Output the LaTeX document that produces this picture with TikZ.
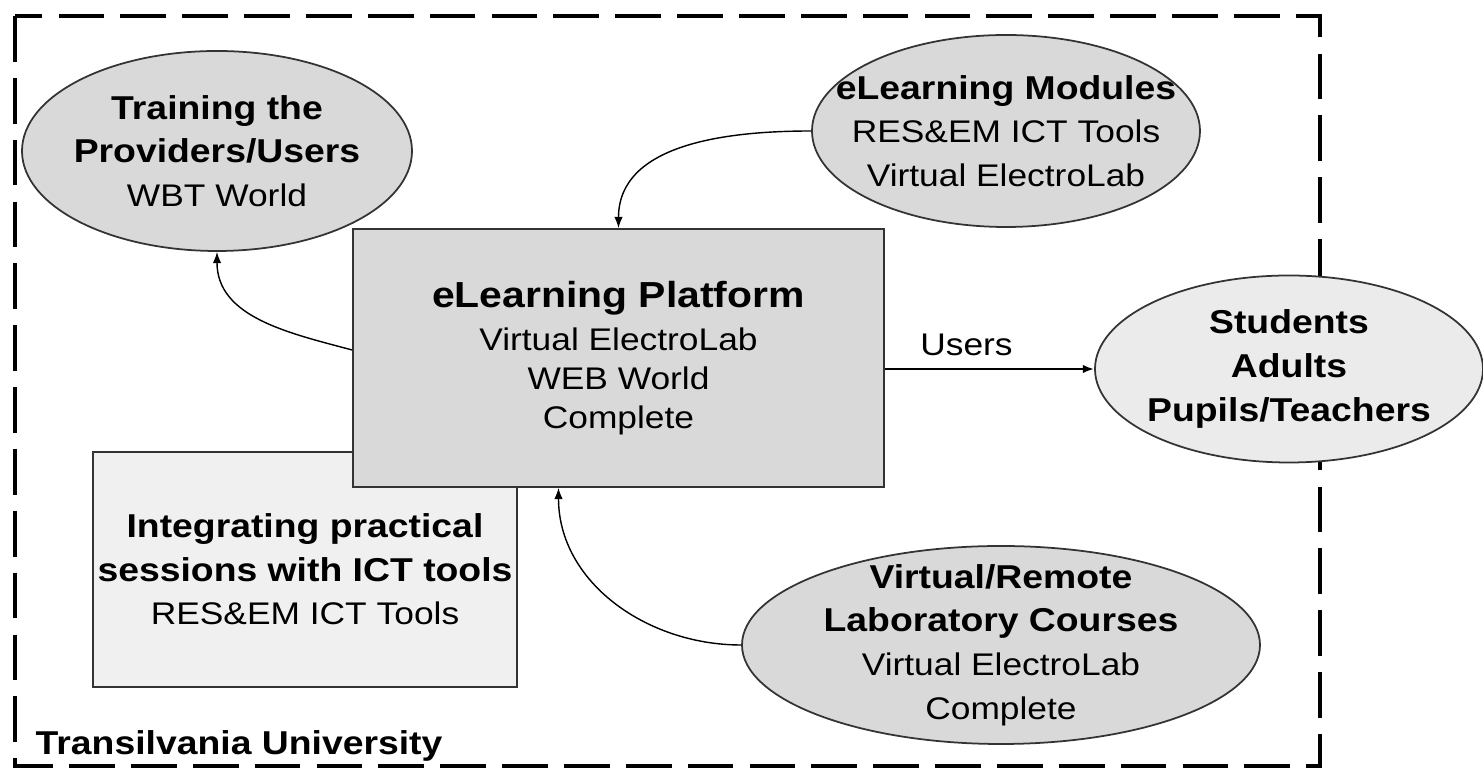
\documentclass[tikz,border=0pt]{standalone}
\usepackage{fontspec}
\setmainfont{Liberation Sans}[FakeStretch=1.13]
\usetikzlibrary{shapes.geometric,arrows.meta}
\newcommand{\bftxt}[1]{{\fontsize{9.4}{12.2}\selectfont\bfseries #1}}
\begin{document}
\begin{tikzpicture}[every node/.style={align=center,font=\fontsize{8.9}{12.4}\selectfont,inner sep=0pt},
  oval/.style={draw=black!80,line width=0.5pt,ellipse,fill=black!15},
  box/.style={draw=black!80,line width=0.5pt,rectangle},
  link/.style={-{Latex[length=3.2pt,width=2.4pt]},line width=0.4pt},
  dashframe/.style={line width=1.4pt,dash pattern=on 13pt off 4.6pt}]
\useasboundingbox (0,0) rectangle (14.83,7.68);
\draw[dashframe] (0.15,7.52) rectangle (13.20,0.02);
\node[box,fill=black!6,minimum width=4.24cm,minimum height=2.35cm] (integ) at (3.05,1.985) {\bftxt{Integrating practical}\\\bftxt{sessions with ICT tools}\\RES\&EM ICT Tools};
\node[box,fill=black!15,minimum width=5.31cm,minimum height=2.58cm,text depth=0.06cm,font=\fontsize{8.9}{11.2}\selectfont] (plat) at (6.185,4.10) {{\fontsize{10.3}{12.2}\selectfont\bfseries eLearning Platform}\\[1pt]Virtual ElectroLab\\WEB World\\Complete};
\node[oval,minimum width=3.9cm,minimum height=2.0cm,label=center:{\bftxt{Training the}\\\bftxt{Providers/Users}\\WBT World}] (train) at (2.17,6.17) {};
\node[oval,minimum width=3.88cm,minimum height=1.92cm,label=center:{\bftxt{eLearning Modules}\\RES\&EM ICT Tools\\Virtual ElectroLab}] (modul) at (10.06,6.37) {};
\node[oval,fill=black!8,minimum width=3.88cm,minimum height=1.87cm,label=center:{\bftxt{Students}\\\bftxt{Adults}\\\bftxt{Pupils/Teachers}}] (stud) at (12.89,3.99) {};
\node[oval,minimum width=5.18cm,minimum height=1.98cm,label=center:{\bftxt{Virtual/Remote}\\\bftxt{Laboratory Courses}\\Virtual ElectroLab\\Complete}] (lab) at (10.01,1.23) {};
\node[anchor=base west,font=\fontsize{9.4}{12.2}\selectfont\bfseries] (univ) at (0.35,0.13) {Transilvania University};
\draw[link] ([yshift=0.08cm]plat.west) to[out=165,in=-90] (train.south);
\draw[link] (modul.west) to[out=180,in=90] (plat.north);
\draw[link] (lab.west) to[out=180,in=-90] ([xshift=-0.6cm]plat.south);
\draw[link,line width=0.6pt] (plat.east |- stud.west) -- node[above=3.4pt,pos=0.39] (users) {Users} (stud.west);
\end{tikzpicture}
\end{document}
